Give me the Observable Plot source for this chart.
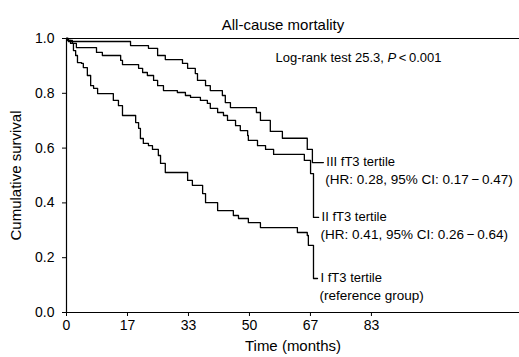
<!DOCTYPE html>
<html>
<head>
<meta charset="utf-8">
<script src="https://cdn.jsdelivr.net/npm/d3@7"></script>
<script src="https://cdn.jsdelivr.net/npm/@observablehq/plot@0.6"></script>
<style>
  html, body { margin: 0; padding: 0; background: #fff; }
  #chart { width: 519px; height: 357px; }
</style>
</head>
<body>
<div id="chart"></div>
<script>
// Time (months) and cumulative survival at each step, per fT3 tertile
const monthsIII = [0, 0.5, 17.5, 22.4, 24.9, 27.0, 31.7, 33.1, 35.2, 35.8, 38.0, 39.3, 42.6, 43.4, 44.8, 51.9, 53.0, 55.7, 59.0, 65.8, 67.2];
const survIII   = [1.0, 0.989, 0.974, 0.964, 0.938, 0.923, 0.909, 0.891, 0.872, 0.847, 0.828, 0.810, 0.792, 0.766, 0.748, 0.730, 0.701, 0.661, 0.636, 0.595, 0.547];

const monthsII = [0, 0.3, 1.6, 2.7, 8.2, 9.8, 14.8, 15.3, 19.7, 20.8, 22.1, 23.8, 24.9, 26.5, 30.3, 32.5, 33.9, 36.6, 38.5, 39.3, 41.3, 42.9, 44.0, 46.2, 47.5, 49.5, 49.7, 52.2, 54.4, 56.6, 65.0, 66.7, 67.5];
const survII   = [1.0, 0.993, 0.982, 0.967, 0.949, 0.938, 0.920, 0.905, 0.891, 0.876, 0.865, 0.847, 0.828, 0.810, 0.803, 0.792, 0.785, 0.774, 0.763, 0.745, 0.730, 0.719, 0.701, 0.682, 0.664, 0.646, 0.628, 0.609, 0.595, 0.577, 0.555, 0.507, 0.347];

const monthsI = [0, 0.3, 1.1, 1.9, 2.5, 3.0, 4.1, 4.6, 5.7, 6.6, 7.4, 8.5, 12.8, 14.2, 15.3, 18.9, 19.7, 20.2, 21.0, 22.4, 23.5, 25.1, 25.7, 27.0, 33.1, 34.4, 37.2, 38.0, 41.3, 45.6, 47.0, 49.7, 53.0, 63.1, 65.8, 66.1, 67.5];
const survI   = [1.0, 0.993, 0.982, 0.956, 0.938, 0.912, 0.909, 0.894, 0.865, 0.828, 0.818, 0.799, 0.774, 0.755, 0.719, 0.693, 0.672, 0.635, 0.617, 0.609, 0.595, 0.573, 0.544, 0.511, 0.482, 0.464, 0.434, 0.401, 0.372, 0.354, 0.343, 0.328, 0.310, 0.292, 0.281, 0.245, 0.124];

// Label connector end (months) for each curve
const groups = ["III", "II", "I"];
const connectorEnd = [70.2, 68.9, 68.6];
const labelLine1 = ["III fT3 tertile", "II fT3 tertile", "I fT3 tertile"];
const labelLine2 = ["(HR: 0.28, 95% CI: 0.17\u2009\u2212\u20090.47)", "(HR: 0.41, 95% CI: 0.26\u2009\u2212\u20090.64)", "(reference group)"];

const xTicks = [0, 50/3, 100/3, 50, 200/3, 250/3];
const yTicks = [0, 0.2, 0.4, 0.6, 0.8, 1.0];

const series = [[monthsIII, survIII], [monthsII, survII], [monthsI, survI]];
const rows = [];
series.forEach(([m, s], gi) => {
  m.forEach((t, i) => rows.push({group: groups[gi], t, s: s[i]}));
  rows.push({group: groups[gi], t: connectorEnd[gi], s: s[s.length - 1]});
});
const labels = series.map(([m, s], gi) => ({
  group: groups[gi], t: connectorEnd[gi], s: s[s.length - 1], l1: labelLine1[gi], l2: labelLine2[gi]
}));

const font = "'Liberation Sans', Arial, Helvetica, sans-serif";

const chart = Plot.plot({
  width: 519,
  height: 357,
  marginTop: 38,
  marginBottom: 45,
  marginLeft: 66,
  marginRight: 0,
  style: {fontFamily: font, fontSize: "14px", color: "#000", background: "#fff"},
  x: {domain: [0, 123.8], ticks: xTicks, tickFormat: d => Math.round(d), tickSize: 4, tickPadding: 4, label: "Time (months)", labelAnchor: "center", labelArrow: "none", labelOffset: 38},
  y: {domain: [0, 1], ticks: yTicks, tickFormat: d3.format(".1f"), tickSize: 4, tickPadding: 8, label: "Cumulative survival", labelAnchor: "center", labelArrow: "none", labelOffset: 56},
  marks: [
    Plot.ruleY([0, 1], {stroke: "#000", strokeWidth: 1.2}),
    Plot.ruleX([0], {stroke: "#000", strokeWidth: 1.2}),
    Plot.line(rows, {x: "t", y: "s", z: "group", curve: "step-after", stroke: "#000", strokeWidth: 1.3}),
    Plot.text(labels, {x: "t", y: "s", text: "l1", textAnchor: "start", dx: 3, dy: -1, fontSize: 13}),
    Plot.text(labels, {x: "t", y: "s", text: "l2", textAnchor: "start", dx: 2, dy: 17, fontSize: 13.5}),
    Plot.text(["All-cause mortality"], {frameAnchor: "top", dx: -10, dy: -19, fontSize: 15}),
    Plot.text(["Log-rank test 25.3, P<0.001"], {frameAnchor: "top-left", dx: 209, dy: 14, fontSize: 13})
  ]
});
document.getElementById("chart").appendChild(chart);
// axis label font size
chart.querySelectorAll("g[aria-label='x-axis label'] text, g[aria-label='y-axis label'] text").forEach(t => t.setAttribute("font-size", 15));
// italicize the P in the log-rank text
chart.querySelectorAll("text").forEach(t => {
  if (t.textContent === "Log-rank test 25.3, P<0.001") {
    t.textContent = "";
    const parts = [["Log-rank test 25.3, ", null], ["P", "italic"], ["\u2009<\u20090.001", null]];
    parts.forEach(([s, st]) => {
      const ts = document.createElementNS("http://www.w3.org/2000/svg", "tspan");
      ts.textContent = s;
      if (st) ts.setAttribute("font-style", st);
      t.appendChild(ts);
    });
  }
});
</script>
</body>
</html>
